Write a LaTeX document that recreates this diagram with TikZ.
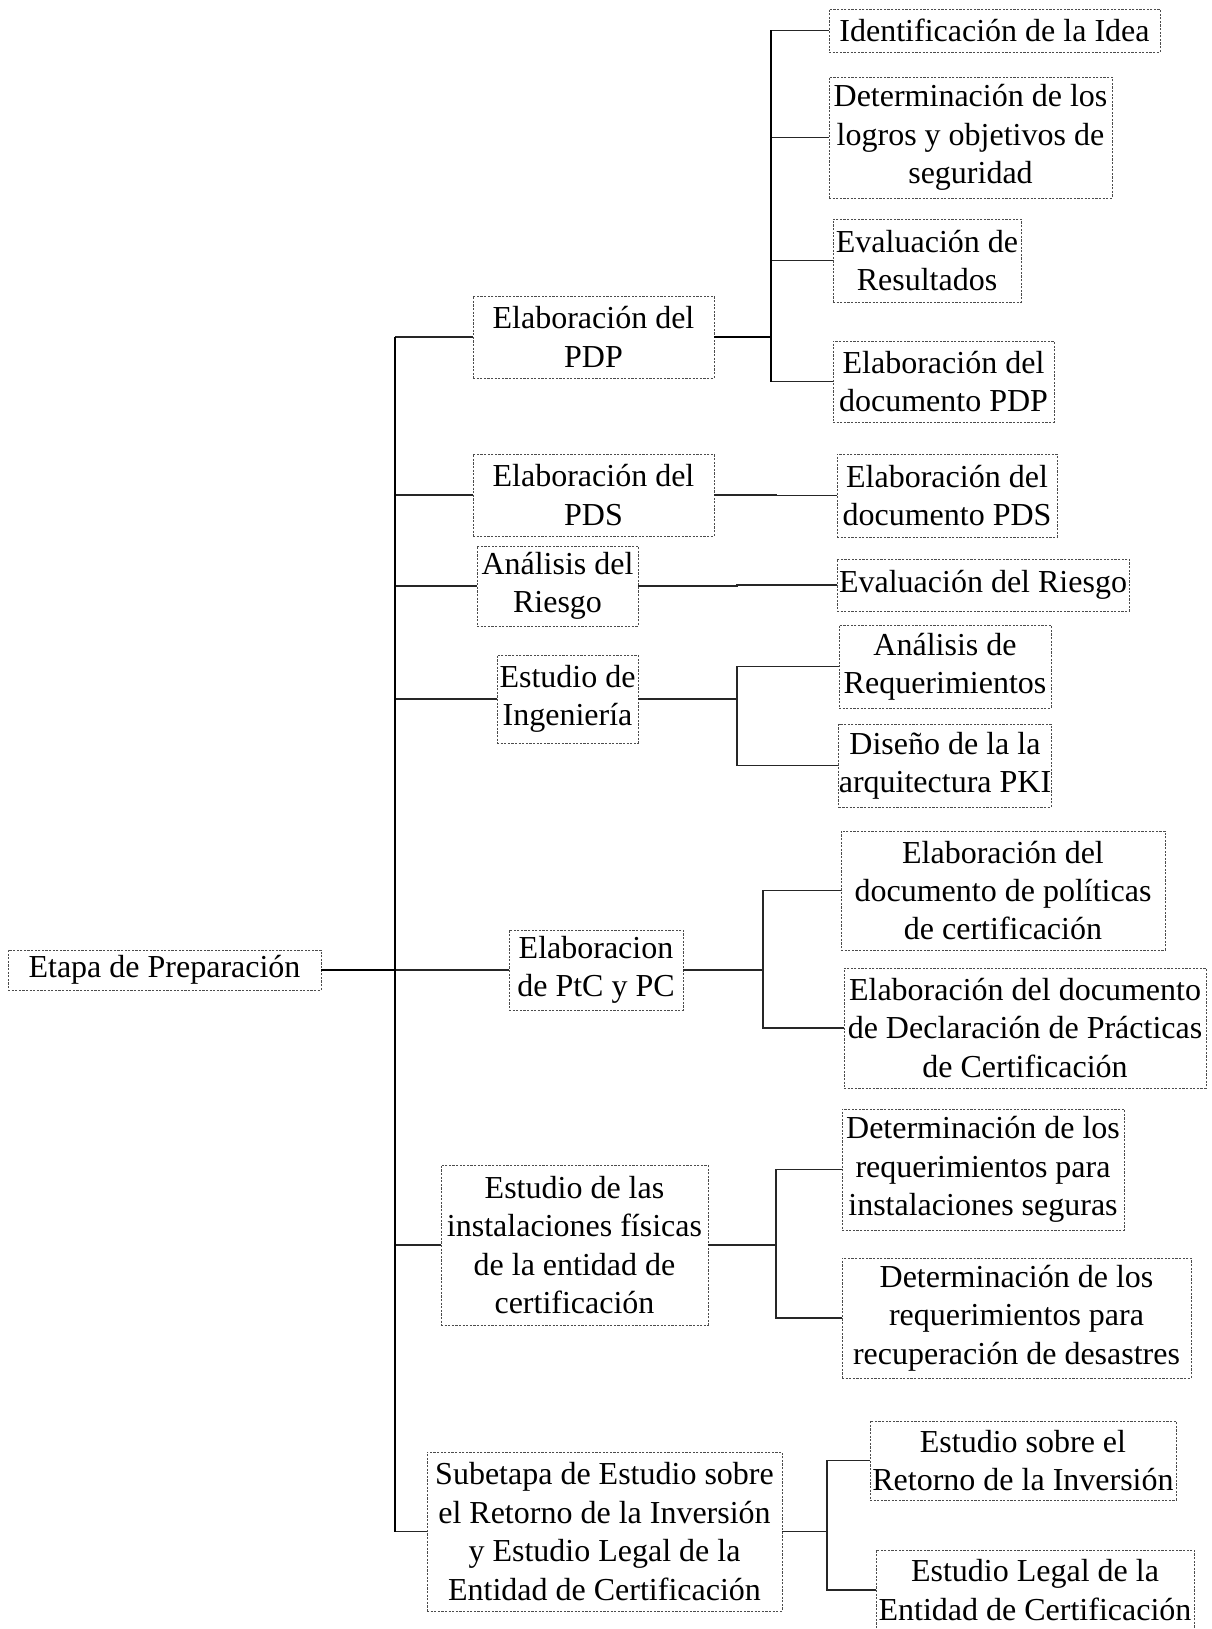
\documentclass[tikz,border=0pt]{standalone}
\usepackage{fontspec}
\setmainfont{Liberation Serif}
\begin{document}
\begin{tikzpicture}[x=1pt,y=-1pt,
  box/.style={draw=black!70, dashed, dash pattern=on 2.2pt off 1.4pt, line width=0.9pt,
    inner sep=0pt, align=center, font=\fontsize{32}{38.4}\selectfont},
  link/.style={draw=black!85, line width=1.4pt},
  buslink/.style={draw=black, line width=2pt}]
\useasboundingbox (0,0) rectangle (1211,1629);
\clip (0,0) rectangle (1211,1629);

% root and first-level stages
\node[box, minimum width=313, minimum height=40] (root) at (164.5,970) {Etapa de Preparación};
\node[box, minimum width=241, minimum height=82] (pdp) at (593.5,337) {Elaboración del\\PDP};
\node[box, minimum width=241, minimum height=82] (pds) at (593.5,495) {Elaboración del\\PDS};
\node[box, minimum width=161, minimum height=80] (ries) at (557.5,586) {Análisis del\\Riesgo};
\node[box, minimum width=141, minimum height=88] (ing) at (567.5,699) {Estudio de\\Ingeniería};
\node[box, minimum width=174, minimum height=80] (ptc) at (596,970) {Elaboracion\\de PtC y PC};
\node[box, minimum width=267, minimum height=160] (ins) at (574.5,1245) {Estudio de las\\instalaciones físicas\\de la entidad de\\certificación};
\node[box, minimum width=355, minimum height=159] (sub) at (604.5,1531.5) {Subetapa de Estudio sobre\\el Retorno de la Inversión\\y Estudio Legal de la\\Entidad de Certificación};

% second-level tasks
\node[box, minimum width=331, minimum height=43] (idea) at (994.5,30.5) {Identificación de la Idea};
\node[box, minimum width=283, minimum height=121] (logros) at (970.5,137.5) {Determinación de los\\logros y objetivos de\\seguridad};
\node[box, minimum width=188, minimum height=83] (evres) at (927,260.5) {Evaluación de\\Resultados};
\node[box, minimum width=221, minimum height=81] (docpdp) at (943.5,381.5) {Elaboración del\\documento PDP};
\node[box, minimum width=220, minimum height=83] (docpds) at (947,495.5) {Elaboración del\\documento PDS};
\node[box, minimum width=292, minimum height=52] (evrie) at (983,585) {Evaluación del Riesgo};
\node[box, minimum width=212, minimum height=83] (anreq) at (945,666.5) {Análisis de\\Requerimientos};
\node[box, minimum width=212, minimum height=83] (dis) at (945,765.5) {Diseño de la la\\arquitectura PKI};
\node[box, minimum width=324, minimum height=119] (pol) at (1003,890.5) {Elaboración del\\documento de políticas\\de certificación};
\node[box, minimum width=362, minimum height=120] (dpc) at (1025,1028) {Elaboración del documento\\de Declaración de Prácticas\\de Certificación};
\node[box, minimum width=282, minimum height=121] (seg) at (983,1169.5) {Determinación de los\\requerimientos para\\instalaciones seguras};
\node[box, minimum width=349, minimum height=120] (des) at (1016.5,1318) {Determinación de los\\requerimientos para\\recuperación de desastres};
\node[box, minimum width=306, minimum height=79] (roi) at (1023,1460.5) {Estudio sobre el\\Retorno de la Inversión};
\node[box, minimum width=318, minimum height=80] (leg) at (1035,1590) {Estudio Legal de la\\Entidad de Certificación};

% vertical bus positions
\coordinate (trunk) at (395,0);
\coordinate (gA) at (771,0);
\coordinate (gB) at (776,0);
\coordinate (gC) at (737,0);
\coordinate (gD) at (737,0);
\coordinate (gE) at (763,0);
\coordinate (gF) at (776,0);
\coordinate (gG) at (827,0);

% main trunk
\foreach \n in {pdp,pds,ries,ing,ptc,ins,sub}
  \draw[link] (trunk |- \n.west) -- (\n.west);
\draw[buslink] (root.east) -- (root.east -| trunk);
\draw[buslink] (trunk |- pdp.west) -- (trunk |- sub.west);

% branches to the tasks
\foreach \p/\g/\c in {pds/gB/docpds, ries/gC/evrie, ing/gD/anreq, ing/gD/dis,
                      ptc/gE/pol, ptc/gE/dpc, ins/gF/seg, ins/gF/des,
                      sub/gG/roi, sub/gG/leg}
  \draw[link] (\p.east) -- (\p.east -| \g) |- (\c.west);
\foreach \c in {idea, logros, evres, docpdp}
  \draw[link] (gA |- \c.west) -- (\c.west);
\draw[buslink] (pdp.east) -- (pdp.east -| gA);
\draw[buslink] (gA |- idea.west) -- (gA |- docpdp.west);
\end{tikzpicture}
\end{document}
